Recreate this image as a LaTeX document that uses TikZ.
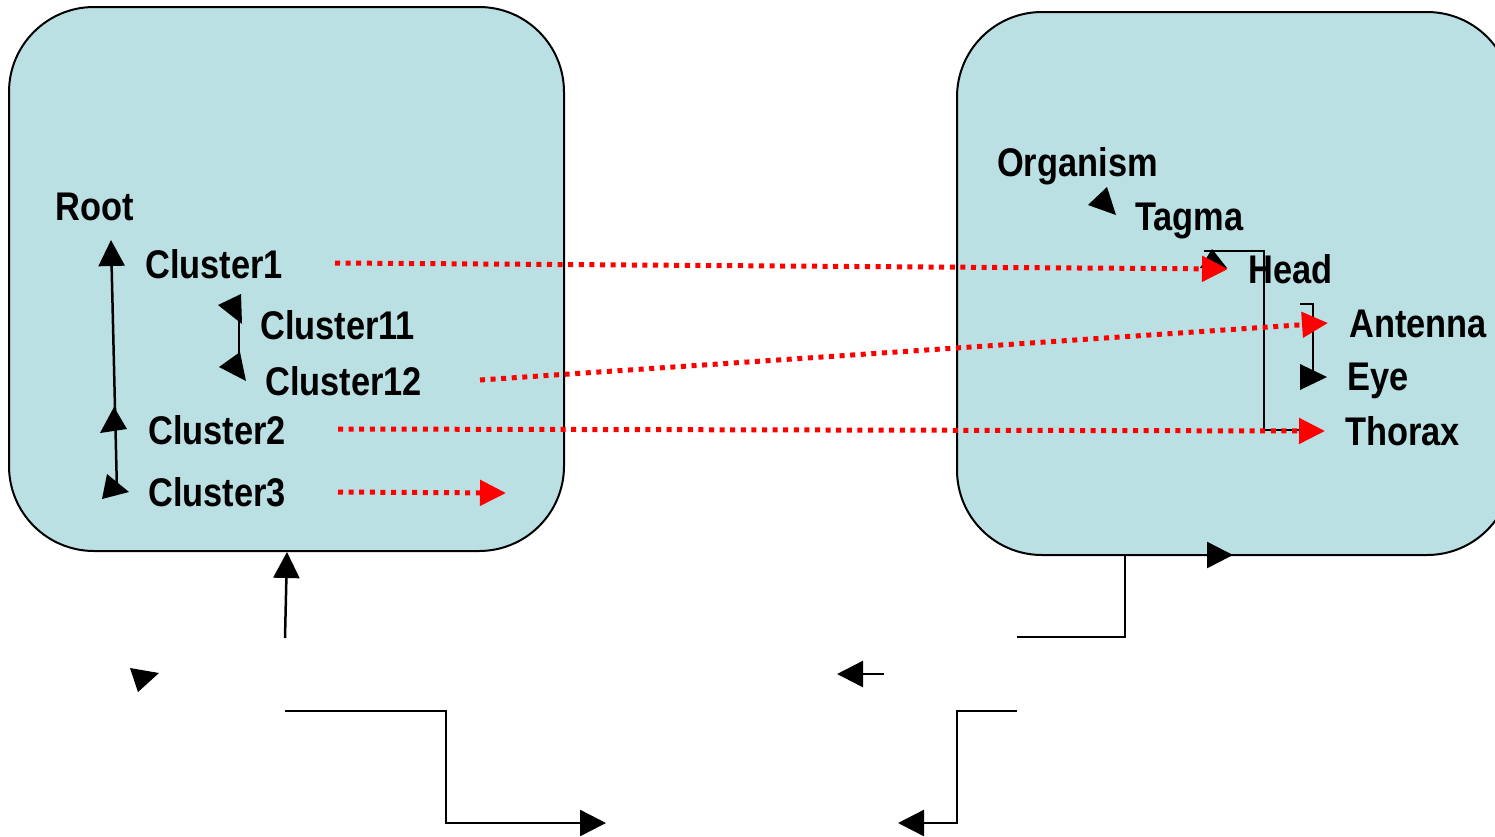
\documentclass[tikz,border=0pt]{standalone}
\usepackage{fontspec}
\newfontfamily\lblfont{Liberation Sans}[FakeStretch=0.86]
\usetikzlibrary{arrows.meta}
\definecolor{boxfill}{RGB}{187,224,227}
\tikzset{
  panel/.style={draw=black, line width=2pt, fill=boxfill, rounded corners=85pt},
  lbl/.style={anchor=base west, inner sep=0pt, font=\lblfont\bfseries\fontsize{40}{48}\selectfont},
  blk/.style={draw=black, line width=2.5pt, -{Triangle[length=26pt,width=26pt]}},
  blkline/.style={draw=black, line width=2.5pt},
  reddot/.style={draw=red, line width=5pt, dash pattern=on 5pt off 5.6pt, -{Triangle[length=26pt,width=25pt]}},
  tri/.style={fill=black, draw=none}
}
\begin{document}
\begin{tikzpicture}[x=1pt,y=-1pt]
\useasboundingbox (0,0) rectangle (1495,836);
% panels
\path[panel] (9,7) rectangle (564,551);
\path[panel] (957,12) rectangle (1512,555);

% left labels
\node[lbl] (root) at (55,220) {Root};
\node[lbl] (c1) at (145,278) {Cluster1};
\node[lbl] (c11) at (260,339) {Cluster11};
\node[lbl] (c12) at (265,395) {Cluster12};
\node[lbl] (c2) at (148,444) {Cluster2};
\node[lbl] (c3) at (148,506) {Cluster3};

% right labels
\node[lbl] (org) at (997,176) {Organism};
\node[lbl] (tag) at (1135,230) {Tagma};
\node[lbl] (head) at (1248,283) {Head};
\node[lbl] (ant) at (1349,337) {Antenna};
\node[lbl] (eye) at (1347,390) {Eye};
\node[lbl] (tho) at (1345,445) {Thorax};

% coordinates
\coordinate (vbot) at (117,492);
\coordinate (vtop) at (111,240);
\coordinate (s11) at (239,297);
\coordinate (s12) at (239,376);
\coordinate (hb1) at (1204,251);
\coordinate (hb2) at (1264,251);
\coordinate (hb3) at (1264,430);
\coordinate (hb4) at (1300,430);
\coordinate (ab1) at (1300,304);
\coordinate (ab2) at (1313,304);
\coordinate (ab3) at (1313,372);

% left tree connectors
\draw[blk] (vbot) -- (vtop);
\fill[tri] (100,433) -- (127,429) -- (114,407) -- cycle;
\fill[tri] (107,474) -- (102,499) -- (129,492) -- cycle;
\draw[blkline] (s11) -- (s12);
\fill[tri] (218,305) -- (241,294) -- (242,324) -- cycle;
\fill[tri] (219,367) -- (240,352) -- (246,381) -- cycle;

% right tree connectors
\fill[tri] (1088,205) -- (1116,215) -- (1107,187) -- cycle;
\draw[blkline] (hb1) -- (hb2) -- (hb3) -- (hb4);
\fill[tri] (1200,268) -- (1227,268) -- (1212,249) -- cycle;
\draw[blkline] (ab1) -- (ab2) -- (ab3);
\fill[tri] (1300,364) -- (1300,390) -- (1327,377) -- cycle;

% red dotted mappings
\coordinate (r1s) at (335,263);
\coordinate (r1e) at (1228,269);
\coordinate (r2s) at (480,380);
\coordinate (r2e) at (1328,323);
\coordinate (r3s) at (338,429);
\coordinate (r3e) at (1325,431);
\coordinate (r4s) at (338,492);
\coordinate (r4e) at (506,493);
\draw[reddot] (r1s) -- (r1e);
\draw[reddot] (r2s) -- (r2e);
\draw[reddot] (r3s) -- (r3e);
\draw[reddot] (r4s) -- (r4e);

% bottom connectors
\coordinate (u1) at (285,638);
\coordinate (u2) at (287,552);
\draw[blk] (u1) -- (u2);
\fill[tri] (130,668) -- (159,673) -- (138,692) -- cycle;

\coordinate (l1) at (285,711);
\coordinate (l2) at (446,711);
\coordinate (l3) at (446,823);
\coordinate (l4) at (606,823);
\draw[blk] (l1) -- (l2) -- (l3) -- (l4);

\coordinate (q1) at (1017,637);
\coordinate (q2) at (1125,637);
\coordinate (q3) at (1125,555);
\coordinate (q4) at (1233,555);
\draw[blk] (q1) -- (q2) -- (q3) -- (q4);

\coordinate (m1) at (884,674);
\coordinate (m2) at (837,674);
\draw[blk] (m1) -- (m2);

\coordinate (n1) at (1017,711);
\coordinate (n2) at (957,711);
\coordinate (n3) at (957,823);
\coordinate (n4) at (898,823);
\draw[blk] (n1) -- (n2) -- (n3) -- (n4);
\end{tikzpicture}
\end{document}
